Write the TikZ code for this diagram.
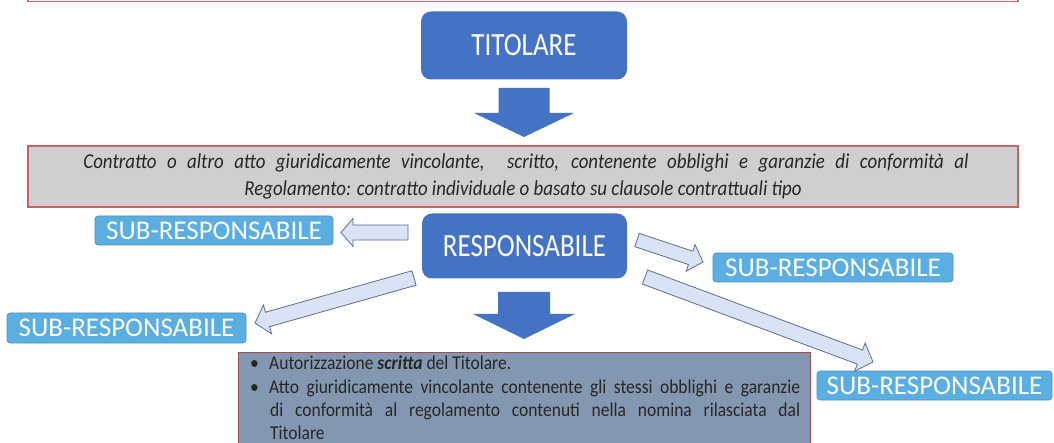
\documentclass[tikz,border=0pt]{standalone}
\usepackage{fontspec}
\setmainfont{Carlito}
\usetikzlibrary{calc}
\definecolor{mainblue}{HTML}{4472C4}
\definecolor{subblue}{HTML}{5AAEE2}
\definecolor{arrfill}{HTML}{DAE3F3}
\definecolor{arrdraw}{HTML}{5B6E8C}
\definecolor{grayfill}{HTML}{CFCFCF}
\definecolor{redline}{HTML}{C96264}
\definecolor{slatefill}{HTML}{8497B0}
\definecolor{darkredline}{HTML}{A0504F}
\definecolor{txtgray}{HTML}{262626}
\newcommand{\tallbox}[2][1.18]{\scalebox{1}[#1]{#2}}
\newcommand{\wideline}[1]{\scalebox{1.05}[1.18]{#1}}
\newcommand{\blockarr}[6]{%
  \coordinate (ba-h) at ($(#2)!#5!(#1)$);
  \path[#6] ($(#1)!#3!90:(#2)$) -- ($(ba-h)!#3!-90:(#1)$) -- ($(ba-h)!#4!-90:(#1)$) -- (#2)
    -- ($(ba-h)!#4!90:(#1)$) -- ($(ba-h)!#3!90:(#1)$) -- ($(#1)!#3!-90:(#2)$) -- cycle;}
\newcommand{\bul}{\makebox[20pt][l]{\hspace{1pt}\textbullet}}
\begin{document}
\begin{tikzpicture}[x=1pt,y=-1pt,
  mainbox/.style={rectangle, rounded corners=10pt, fill=mainblue, text=white, inner sep=0pt,
    font=\fontsize{27}{30}\selectfont},
  subbox/.style={rectangle, rounded corners=3pt, fill=subblue, draw=subblue!85!black, line width=0.6pt,
    text=white, inner sep=0pt, minimum height=29pt, font=\fontsize{27}{30}\selectfont},
  solidarrow/.style={fill=mainblue},
  hollowarrow/.style={fill=arrfill, draw=arrdraw, line width=0.8pt, line join=miter},
]
\useasboundingbox (0,0) rectangle (1054,443);
\clip (0,0) rectangle (1054,443);
\fill[white] (0,0) rectangle (1054,443);
% top box (only its lower edge shows)
\draw[redline, line width=1.2pt] (28,-20) rectangle (1018,1.2);
% TITOLARE
\node[mainbox, minimum width=206pt, minimum height=68pt] (tit) at (524,45.5) {\tallbox[1.2]{TITOLARE}};
% contract box
\node[draw=redline, line width=1.2pt, fill=grayfill, minimum width=990pt, minimum height=61pt,
  inner sep=0pt, text=txtgray, align=center, font=\fontsize{18}{27}\selectfont\itshape] (contr) at (523,176.5)
  {\hspace*{6pt}\wideline{\makebox[843pt][s]{Contratto o altro atto giuridicamente vincolante, \ scritto, contenente obblighi e garanzie di conformità al}}\\
   \wideline{Regolamento: contratto individuale o basato su clausole contrattuali tipo}};
% RESPONSABILE
\node[mainbox, minimum width=205pt, minimum height=65pt] (resp) at (524.5,246) {\tallbox[1.2]{RESPONSABILE}};
% SUB-RESPONSABILI
\node[subbox, minimum width=238pt] (s1) at (214,230.5) {SUB-RESPONSABILE};
\node[subbox, minimum width=240pt] (s2) at (833,267.5) {SUB-RESPONSABILE};
\node[subbox, minimum width=239pt, minimum height=30pt] (s3) at (126.5,328) {SUB-RESPONSABILE};
\node[subbox, minimum width=235pt] (s4) at (934.5,385.5) {SUB-RESPONSABILE};
% authorisation box
\node[draw=darkredline, line width=1.2pt, fill=slatefill, minimum width=572pt, minimum height=120pt,
  inner sep=0pt, anchor=north west] (authbox) at (238,352) {};
\node[anchor=north west, inner sep=0pt, text=txtgray] (authtxt) at (249,356)
  {\tallbox[1.12]{\parbox{551pt}{\fontsize{17.5}{20.6}\selectfont\setlength{\parindent}{0pt}%
   \hangindent=21pt\hangafter=1\bul Autorizzazione \textbf{\textit{scritta}} del Titolare.\par
   \hangindent=21pt\hangafter=1\bul Atto giuridicamente vincolante contenente gli stessi obblighi e garanzie\linebreak
   di conformità al regolamento contenuti nella nomina rilasciata dal\linebreak Titolare\par}}};
% arrows
\coordinate (a1s) at (524,88);   \coordinate (a1e) at (524,137);
\coordinate (a2s) at (524,292);  \coordinate (a2e) at (524,339);
\coordinate (a3s) at (408,232.5); \coordinate (a3e) at (341,232.5);
\coordinate (a4s) at (637,240);  \coordinate (a4e) at (703,262);
\coordinate (a5s) at (414,278);  \coordinate (a5e) at (255,323);
\coordinate (a6s) at (645,277);  \coordinate (a6e) at (873,362);
\blockarr{a1s}{a1e}{25.5pt}{50pt}{24pt}{solidarrow}
\blockarr{a2s}{a2e}{26pt}{51pt}{25pt}{solidarrow}
\blockarr{a3s}{a3e}{7.5pt}{14pt}{12pt}{hollowarrow}
\blockarr{a4s}{a4e}{7pt}{14pt}{13pt}{hollowarrow}
\blockarr{a5s}{a5e}{7.5pt}{15pt}{13pt}{hollowarrow}
\blockarr{a6s}{a6e}{7.5pt}{15pt}{14pt}{hollowarrow}
\end{tikzpicture}
\end{document}
